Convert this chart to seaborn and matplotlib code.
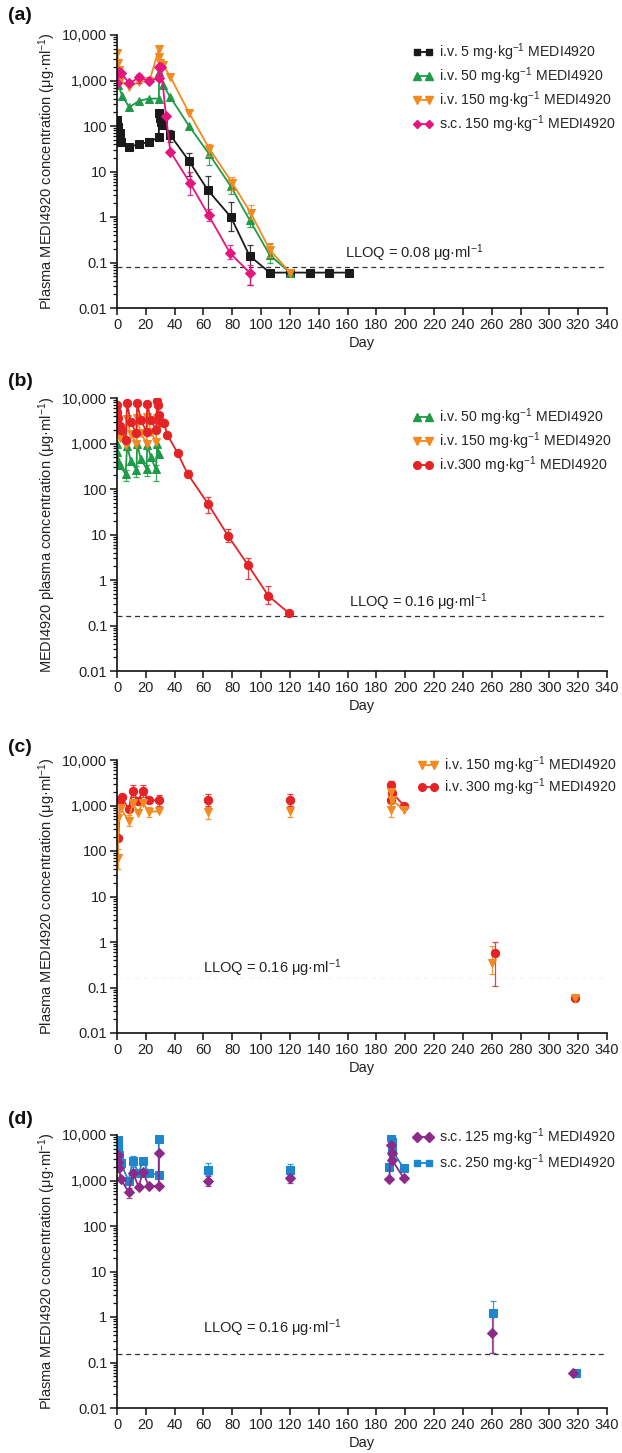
import numpy as np
import pandas as pd
import matplotlib
matplotlib.use("Agg")
import matplotlib.pyplot as plt
from matplotlib.lines import Line2D
from matplotlib.ticker import LogLocator, NullFormatter, FixedLocator
import seaborn as sns

sns.set_theme(style="ticks")
plt.rcParams['font.family'] = ['Liberation Sans', 'DejaVu Sans']
plt.rcParams['mathtext.fontset'] = 'custom'
plt.rcParams['mathtext.rm'] = 'Liberation Sans'
plt.rcParams['mathtext.it'] = 'Liberation Sans:italic'
plt.rcParams['mathtext.bf'] = 'Liberation Sans:bold'

# ---------------- DATA ----------------
# Panel (a)
a_iv5_days = [0.3, 1, 2, 3, 8.5, 15.5, 22.5, 29, 29.2, 29.6, 30.5, 32, 37, 50, 63, 79, 92, 106, 120, 134, 147, 161]
a_iv5_vals = [135, 96, 70, 45, 35, 40, 45, 56, 195, 150, 125, 105, 63, 17, 3.9, 1.0, 0.14, 0.06, 0.06, 0.06, 0.06, 0.06]
a_iv50_days = [0.3, 1, 3.5, 8.5, 15.5, 22.5, 29, 29.3, 32, 37, 50, 64, 79, 92, 106, 120]
a_iv50_vals = [1550, 800, 460, 260, 360, 400, 400, 1550, 800, 430, 100, 24, 4.7, 0.86, 0.146, 0.06]
a_iv150_days = [0.3, 0.8, 1.3, 2, 8.5, 15.5, 22.5, 29, 29.3, 30, 32, 37, 50, 64, 80, 93, 106, 120]
a_iv150_vals = [4000, 2400, 1700, 1000, 730, 940, 970, 4900, 3300, 2400, 2200, 1200, 195, 32, 5.6, 1.2, 0.19, 0.06]
a_sc150_days = [0.3, 1.5, 3, 8.5, 15.5, 22.5, 29, 29.3, 30.5, 34, 37, 50.5, 63.5, 78.5, 92]
a_sc150_vals = [890, 1550, 1450, 870, 1170, 970, 1150, 2000, 2000, 165, 27.5, 5.7, 1.1, 0.16, 0.06]
# error bars (day, low, high)
a_iv5_err = [(50, 7.8, 26), (63, 1.0, 8.0), (79, 0.5, 2.1), (92, 0.032, 0.24), (37, 45, 80)]
a_iv50_err = [(64, 14, 32), (79, 3.2, 6.5), (106, 0.1, 0.25), (92, 0.6, 1.2)]
a_iv150_err = [(80, 4, 7.5), (93, 0.9, 1.8), (106, 0.13, 0.27), (64, 22, 40)]
a_sc150_err = [(50.5, 3, 10), (63.5, 0.8, 1.5), (78.5, 0.12, 0.24), (92, 0.032, 0.09), (15.5, 900, 1400)]
a_lloq = 0.08

# Panel (b)
b_iv50_days = [0, 0.3, 1, 2, 6, 7, 9.5, 13.5, 14, 16.5, 20.5, 21, 23.5, 27, 28, 29]
b_iv50_vals = [1000, 650, 420, 330, 210, 900, 420, 260, 1000, 450, 280, 950, 500, 270, 1000, 600]
b_iv150_days = [0, 0.3, 1, 2, 6, 7, 9.5, 13.5, 14, 16.5, 20.5, 21, 23.5, 27, 28, 29]
b_iv150_vals = [3600, 2600, 1800, 1300, 950, 3500, 1600, 1000, 3700, 1700, 1000, 3800, 1800, 1100, 3600, 2400]
b_iv300_days = [0, 0.3, 1, 2, 3, 6, 7, 9.5, 13.5, 14, 16.5, 20.5, 21, 23.5, 27, 28, 28.3, 29, 30.5, 32.5, 35, 42, 49, 63, 77, 91, 105, 119]
b_iv300_vals = [7000, 5000, 3600, 2400, 2000, 1200, 7600, 2900, 1700, 7800, 3300, 1800, 7400, 3300, 2000, 8700, 7000, 4200, 3000, 2800, 1550, 620, 215, 48, 9.4, 2.1, 0.45, 0.19]
b_iv50_err = [(6, 150, 260), (13.5, 180, 320), (20.5, 190, 340), (27, 150, 330)]
b_iv300_err = [(49, 180, 260), (63, 30, 68), (77, 7, 13), (91, 1.07, 3.1), (105, 0.3, 0.74)]
b_lloq = 0.16

# Panel (c) -- segments: early dosing, isolated visits, re-dose cluster, late visits
c_iv150_days = [[0.5, 1, 2.5, 8, 11, 14.5, 18, 22, 29], [63], [120], [190, 190, 191, 199], [260.5], [318]]
c_iv150_vals = [[70, 520, 870, 460, 1150, 690, 1150, 720, 750], [720], [750], [800, 2000, 1300, 800], [0.34], [0.058]]
c_iv300_days = [[1, 2, 3.5, 8, 11, 14.5, 18, 22, 29], [63], [120], [190, 190, 191, 199], [262.5], [318]]
c_iv300_vals = [[190, 1300, 1500, 830, 2100, 1250, 2100, 1300, 1300], [1350], [1350], [1300, 2800, 1900, 1000], [0.56], [0.058]]
c_iv150_err = [(0.5, 40, 110), (8, 350, 620), (22, 550, 950), (63, 500, 950), (120, 550, 1000), (190, 550, 1200), (260.5, 0.2, 0.83)]
c_iv300_err = [(11, 1500, 2800), (18, 1500, 2800), (29, 1000, 1700), (63, 1000, 1800), (120, 1000, 1800), (190, 2000, 3400), (262.5, 0.11, 1.0)]
c_lloq = 0.16

# Panel (d)
d_sc125_days = [[0.5, 1, 1.5, 2.5, 8, 11, 15, 18, 22, 29, 29], [63], [120], [189, 190, 190.5, 191, 199], [260], [316.5]]
d_sc125_vals = [[3600, 2600, 1900, 1100, 560, 1480, 730, 1550, 750, 750, 4000], [990], [1130], [1100, 6000, 4000, 2800, 1120], [0.45], [0.06]]
d_sc250_days = [[0.5, 1, 1.5, 2.5, 8, 11, 15, 18, 22, 29, 29], [63], [120], [189, 190, 190.5, 191, 199], [261], [318.5]]
d_sc250_vals = [[7800, 5500, 3600, 2400, 1000, 2700, 1450, 2700, 1450, 1320, 8200], [1700], [1700], [2000, 9200, 7000, 4500, 1850], [1.24], [0.058]]
d_sc125_err = [(8, 420, 700), (63, 750, 1250), (120, 900, 1400), (260, 0.16, 1.0)]
d_sc250_err = [(11, 2000, 3400), (63, 1300, 2400), (120, 1300, 2300), (261, 0.16, 2.3)]
d_lloq = 0.155

ytick_vals = [0.01, 0.1, 1, 10, 100, 1000, 10000]
ytick_labels = ['0.01', '0.1', '1', '10', '100', '1,000', '10,000']
xtick_vals = list(range(0, 341, 20))

# ---------------- STYLE ----------------
BLACK = '#1a1a1a'
GREEN = '#1f9a48'
ORANGE = '#f28a1f'
PINK = '#e5157f'
RED = '#e32326'
PURPLE = '#8b2a88'
BLUE = '#1d86cc'

UNIT = r'mg·kg$^{-1}$'
CONC_UNIT = r'μg·ml$^{-1}$'
FS = 10.5
LFS = 10.2

W, H = 622, 1453
fig = plt.figure(figsize=(W / 100, H / 100), dpi=100)

def make_ax(top_px, bottom_px):
    left, right = 117, 607
    return fig.add_axes([left / W, 1 - bottom_px / H, (right - left) / W, (bottom_px - top_px) / H])

def plot_series(ax, days, vals, color, marker, ms):
    df = pd.DataFrame({'day': days, 'conc': vals})
    sns.lineplot(data=df, x='day', y='conc', ax=ax, color=color, marker=marker,
                 markersize=ms, markeredgecolor=color, linewidth=1.3, sort=False,
                 estimator=None, errorbar=None, legend=False)

def plot_err(ax, errs, days, vals, color):
    for d, lo, hi in errs:
        cands = [v for dd, v in zip(days, vals) if dd == d]
        if not cands:
            continue
        inside = [v for v in cands if lo <= v <= hi]
        v = inside[0] if inside else cands[0]
        ax.errorbar([d], [v], yerr=[[max(v - lo, 0)], [max(hi - v, 0)]], fmt='none', ecolor=color,
                    elinewidth=0.9, capsize=2, capthick=0.9, alpha=0.85)

def flatten(segs):
    out = []
    for s in segs:
        out.extend(s)
    return out

def style_ax(ax, ylabel):
    ax.set_yscale('log')
    ax.set_ylim(0.01, 10000)
    ax.set_xlim(0, 340)
    ax.yaxis.set_major_locator(FixedLocator(ytick_vals))
    ax.set_yticklabels(ytick_labels)
    ax.yaxis.set_minor_locator(LogLocator(base=10, subs=np.arange(2, 10) * 1.0, numticks=20))
    ax.yaxis.set_minor_formatter(NullFormatter())
    ax.set_xticks(xtick_vals)
    ax.set_xticklabels([str(v) for v in xtick_vals])
    ax.tick_params(axis='both', which='major', direction='out', length=5, width=1.1,
                   labelsize=FS, color='#111111', labelcolor='#222222', pad=2)
    ax.tick_params(axis='y', which='minor', direction='out', length=3, width=0.9, color='#111111')
    sns.despine(ax=ax)
    for s in ['left', 'bottom']:
        ax.spines[s].set_linewidth(1.2)
        ax.spines[s].set_color('#111111')
    ax.set_xlabel('Day', fontsize=FS, color='#222222', labelpad=3)
    ax.set_ylabel(ylabel, fontsize=FS, color='#222222', labelpad=3)
    ax.grid(False)

def lloq(ax, val, text, tx, ty, show_line=True, line_alpha=1.0):
    if show_line:
        ax.axhline(val, xmin=0, xmax=1, color='#333333', linestyle=(0, (4, 3)), linewidth=0.9, alpha=line_alpha, zorder=1)
    ax.text(tx, ty, text, fontsize=FS, color='#222222', ha='left', va='center')

def legend(ax, entries, anchor, spacing):
    handles = [Line2D([0], [0], color=c, marker=m, markersize=ms, markeredgecolor=c, linewidth=1.3)
               for (c, m, ms, _) in entries]
    labels = [l for (_, _, _, l) in entries]
    ax.legend(handles, labels, numpoints=2, handlelength=1.45, handletextpad=0.4,
              frameon=False, fontsize=LFS, loc='upper left', bbox_to_anchor=anchor,
              borderaxespad=0, borderpad=0, labelspacing=spacing)

ylab_plasma = 'Plasma MEDI4920 concentration (' + CONC_UNIT + ')'
ylab_b = 'MEDI4920 plasma concentration (' + CONC_UNIT + ')'

# ---------------- Panel (a) ----------------
ax = make_ax(35, 308)
for days, vals, col, mk, ms, errs in [
        (a_iv5_days, a_iv5_vals, BLACK, 's', 5.5, a_iv5_err),
        (a_iv50_days, a_iv50_vals, GREEN, '^', 6, a_iv50_err),
        (a_iv150_days, a_iv150_vals, ORANGE, 'v', 6, a_iv150_err),
        (a_sc150_days, a_sc150_vals, PINK, 'D', 5, a_sc150_err)]:
    plot_err(ax, errs, days, vals, col)
    plot_series(ax, days, vals, col, mk, ms)
style_ax(ax, ylab_plasma)
lloq(ax, a_lloq, 'LLOQ = 0.08 ' + CONC_UNIT, 158, 0.16)
legend(ax, [(BLACK, 's', 5, 'i.v. 5 ' + UNIT + ' MEDI4920'),
            (GREEN, '^', 5.5, 'i.v. 50 ' + UNIT + ' MEDI4920'),
            (ORANGE, 'v', 5.5, 'i.v. 150 ' + UNIT + ' MEDI4920'),
            (PINK, 'D', 4.5, 's.c. 150 ' + UNIT + ' MEDI4920')], (0.604, 0.975), 0.15)

# ---------------- Panel (b) ----------------
ax = make_ax(398, 671)
plot_err(ax, b_iv50_err, b_iv50_days, b_iv50_vals, GREEN)
plot_series(ax, b_iv50_days, b_iv50_vals, GREEN, '^', 6)
plot_series(ax, b_iv150_days, b_iv150_vals, ORANGE, 'v', 6)
plot_err(ax, b_iv300_err, b_iv300_days, b_iv300_vals, RED)
plot_series(ax, b_iv300_days, b_iv300_vals, RED, 'o', 6)
style_ax(ax, ylab_b)
lloq(ax, b_lloq, 'LLOQ = 0.16 ' + CONC_UNIT, 161, 0.32)
legend(ax, [(GREEN, '^', 5.5, 'i.v. 50 ' + UNIT + ' MEDI4920'),
            (ORANGE, 'v', 5.5, 'i.v. 150 ' + UNIT + ' MEDI4920'),
            (RED, 'o', 5.5, 'i.v.300 ' + UNIT + ' MEDI4920')], (0.604, 0.97), 0.18)

# ---------------- Panel (c) ----------------
ax = make_ax(760, 1033)
plot_err(ax, c_iv150_err, flatten(c_iv150_days), flatten(c_iv150_vals), ORANGE)
plot_err(ax, c_iv300_err, flatten(c_iv300_days), flatten(c_iv300_vals), RED)
for d, v in zip(c_iv300_days, c_iv300_vals):
    plot_series(ax, d, v, RED, 'o', 6)
for d, v in zip(c_iv150_days, c_iv150_vals):
    plot_series(ax, d, v, ORANGE, 'v', 6)
style_ax(ax, ylab_plasma)
lloq(ax, c_lloq, 'LLOQ = 0.16 ' + CONC_UNIT, 60, 0.27, show_line=True, line_alpha=0.05)
legend(ax, [(ORANGE, 'v', 5.5, 'i.v. 150 ' + UNIT + ' MEDI4920'),
            (RED, 'o', 5.5, 'i.v. 300 ' + UNIT + ' MEDI4920')], (0.614, 1.02), 0.02)

# ---------------- Panel (d) ----------------
ax = make_ax(1135, 1408)
plot_err(ax, d_sc250_err, flatten(d_sc250_days), flatten(d_sc250_vals), BLUE)
plot_err(ax, d_sc125_err, flatten(d_sc125_days), flatten(d_sc125_vals), PURPLE)
for d, v in zip(d_sc250_days, d_sc250_vals):
    plot_series(ax, d, v, BLUE, 's', 5.5)
for d, v in zip(d_sc125_days, d_sc125_vals):
    plot_series(ax, d, v, PURPLE, 'D', 5.5)
style_ax(ax, ylab_plasma)
lloq(ax, d_lloq, 'LLOQ = 0.16 ' + CONC_UNIT, 60, 0.57)
legend(ax, [(PURPLE, 'D', 5, 's.c. 125 ' + UNIT + ' MEDI4920'),
            (BLUE, 's', 5, 's.c. 250 ' + UNIT + ' MEDI4920')], (0.604, 1.03), 0.28)

# panel letters
for lab, ypx in [('(a)', 16), ('(b)', 382), ('(c)', 748), ('(d)', 1120)]:
    fig.text(8 / W, 1 - ypx / H, lab, fontsize=14, fontweight='bold', color='#111111',
             ha='left', va='center')

fig.savefig('out.png', dpi=100)
